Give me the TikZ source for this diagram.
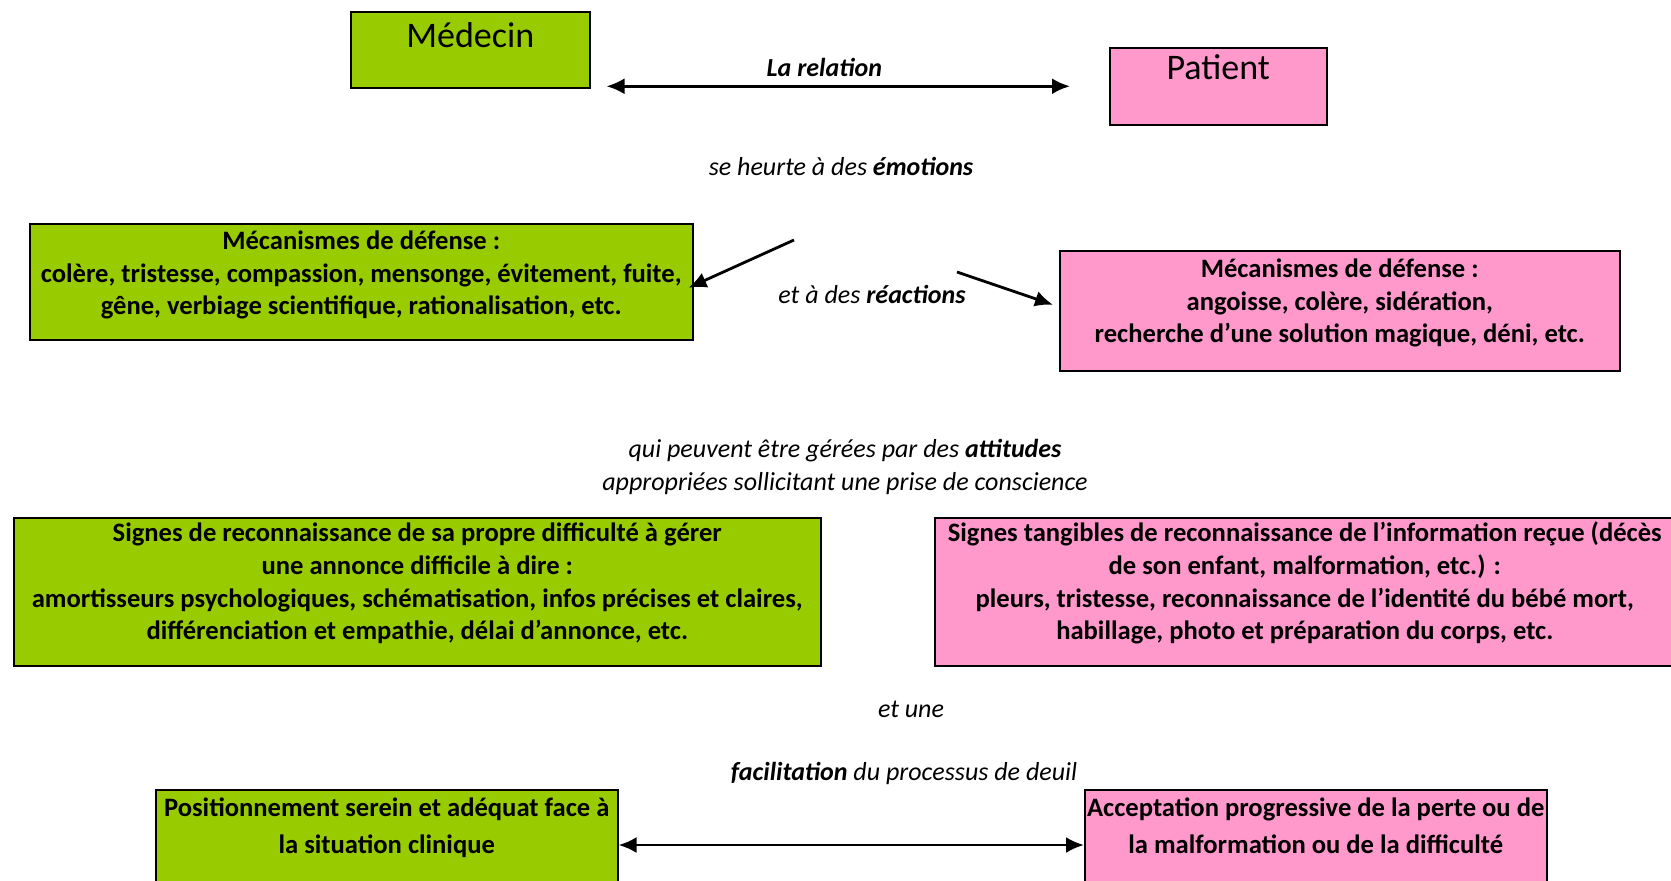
\documentclass[tikz,border=0pt]{standalone}
\usepackage{fontspec}
\setmainfont{Carlito}
\usepackage{tikz}
\definecolor{vert}{RGB}{153,204,0}
\definecolor{rose}{RGB}{255,153,204}
\usetikzlibrary{arrows.meta}

\begin{document}
\begin{tikzpicture}[x=0.5pt, y=-0.5pt,
        >={Latex[length=9pt,width=8pt]},   %Pfeilspitzen
        boite/.style={draw, line width=0.75pt, inner sep=0pt, anchor=north west, align=center,
            font=\fontsize{13.3}{16.3}\selectfont\bfseries},
        titre/.style={draw, line width=0.75pt, inner sep=0pt, anchor=north west,
            font=\fontsize{18}{22}\selectfont},
        texte/.style={align=center, font=\fontsize{13}{16.5}\selectfont\itshape},
        fleche/.style={line width=1.4pt}]
        %Bildbereich
        \useasboundingbox (0,0) rectangle (1671,880);
        \clip (0,0) rectangle (1671,880);
        % Medecin und Patient
        \node[titre, fill=vert, minimum width=119.5pt, text height=18pt, text depth=20pt] (medecin) at (350,11) {Médecin};
        \node[titre, fill=rose, minimum width=108.5pt, text height=16pt, text depth=22.5pt] (patient) at (1109,47) {Patient};
        \draw[fleche, <->] ([xshift=8pt]medecin.east |- patient.west) -- ([xshift=-19.5pt]patient.west)
            node[pos=0.47, above=1pt, font=\fontsize{13}{16}\selectfont\bfseries\itshape] (relation) {La relation};
        % Emotionen und Reaktionen
        \node[texte] (emotions) at (841,166) {se heurte à des \textbf{émotions}};
        \node[boite, fill=vert, minimum width=331.5pt, text height=45.5pt, text depth=12.5pt] (defmed) at (29,223)
            {Mécanismes de défense :\\ colère, tristesse, compassion, mensonge, évitement, fuite,\\ gêne, verbiage scientifique, rationalisation, etc.};
        \node[boite, fill=rose, minimum width=280pt, text height=46pt, text depth=14pt] (defpat) at (1059,250)
            {Mécanismes de défense :\\ angoisse, colère, sidération,\\ recherche d’une solution magique, déni, etc.};
        \node[texte] (reactions) at (872,294) {et à des \textbf{réactions}};
        \coordinate (r1) at (794,240);
        \coordinate (r2) at (957,272);
        \draw[fleche, ->] (r1) -- ([xshift=-2.5pt,yshift=-3pt]defmed.east);
        \draw[fleche, ->] (r2) -- ([xshift=-3pt,yshift=3pt]defpat.west);
        % Attitudes
        \node[texte] (attitudes) at (845,467) {qui peuvent être gérées par des \textbf{attitudes}\\ appropriées sollicitant une prise de conscience};
        \node[boite, fill=vert, minimum width=403.5pt, text height=61pt, text depth=13pt] (signmed) at (13,517)
            {Signes de reconnaissance de sa propre difficulté à gérer\\ une annonce difficile à dire :\\ amortisseurs psychologiques, schématisation, infos précises et claires,\\ différenciation et empathie, délai d’annonce, etc.};
        \node[boite, fill=rose, minimum width=370pt, text height=61pt, text depth=13pt] (signpat) at (934,517)
            {Signes tangibles de reconnaissance de l’information reçue (décès\\ de son enfant, malformation, etc.) :\\ pleurs, tristesse, reconnaissance de l’identité du bébé mort,\\ habillage, photo et préparation du corps, etc.};
        % Trauerprozess
        \node[texte] (etune) at (911,709) {et une};
        \node[texte] (facil) at (904,773) {\textbf{facilitation} du processus de deuil};
        \node[boite, fill=vert, minimum width=231pt, text height=32pt, text depth=100pt,
            font=\fontsize{13.3}{18.5}\selectfont\bfseries] (posmed) at (155,789)
            {Positionnement serein et adéquat face à\\ la situation clinique};
        \node[boite, fill=rose, minimum width=231pt, text height=32pt, text depth=100pt,
            font=\fontsize{13.3}{18.5}\selectfont\bfseries] (accpat) at (1084,789)
            {Acceptation progressive de la perte ou de\\ la malformation ou de la difficulté};
        \draw[fleche, <->] ([yshift=-28pt]posmed.north east) -- ([yshift=-28pt]accpat.north west);
    \end{tikzpicture}
\end{document}
